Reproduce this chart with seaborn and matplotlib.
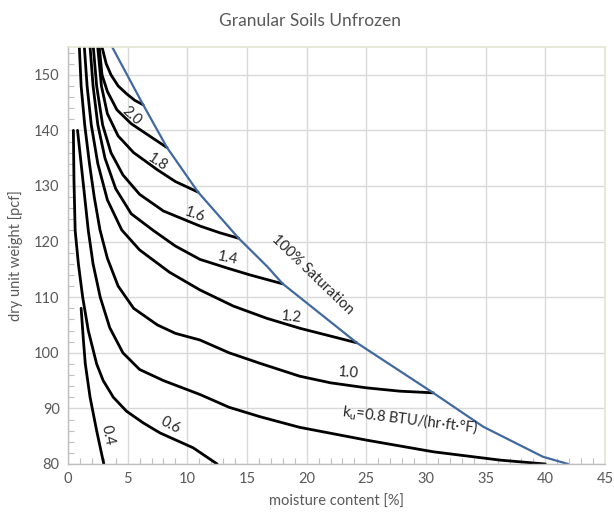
import numpy as np
import pandas as pd
import matplotlib
matplotlib.use("Agg")
import matplotlib.pyplot as plt
import seaborn as sns

# ---- data (moisture %, dry unit weight pcf) ----
k04_x = [1.1, 1.3, 1.45, 1.85, 2.4, 3.0]
k04_y = [108, 102, 98, 92, 86, 80]

k06_x = [0.45, 0.5, 0.6, 0.87, 1.23, 1.7, 2.4, 2.95, 3.8, 4.9, 6.3, 7.7, 10.5, 12.5]
k06_y = [140, 131, 122, 116, 110, 104, 98, 95, 92, 89.5, 87.4, 85.6, 82.9, 80]

k08_x = [0.8, 1.0, 1.25, 1.7, 2.1, 2.7, 3.5, 4.6, 6.0, 8.0, 11.06, 13.5, 16.1, 19.4, 25.0, 30.6, 36.2, 40.0]
k08_y = [140, 136, 131, 122, 116, 110, 104.5, 100, 97, 95, 92.5, 90.2, 88.5, 86.6, 84.3, 82.2, 80.7, 80]

k10_x = [0.95, 1.1, 1.4, 1.8, 2.2, 2.68, 3.3, 4.2, 5.5, 7.5, 9.0, 11.06, 13.5, 16.1, 19.4, 22.0, 25.0, 27.8, 30.6]
k10_y = [155, 148, 141, 134, 128, 122.1, 117, 112, 108, 105, 103.5, 102.3, 100, 98.1, 95.8, 94.6, 93.7, 93.1, 92.8]

k12_x = [1.37, 1.6, 1.95, 2.5, 3.3, 4.5, 6.0, 8.5, 11.06, 13.86, 16.66, 19.45, 22.2, 24.2]
k12_y = [155, 148, 141, 134, 127.5, 122.1, 118.5, 114.5, 111.3, 108.4, 106.2, 104.4, 102.9, 101.8]

k14_x = [1.85, 2.1, 2.5, 3.1, 4.0, 5.3, 7.15, 9.0, 11.06, 13.4, 15.26, 18.0]
k14_y = [155, 148, 141, 135, 129.5, 125, 122, 119.2, 116.8, 115.2, 114.0, 112.4]

k16_x = [2.12, 2.4, 2.9, 3.6, 4.6, 6.0, 8.0, 11.06, 12.7, 14.3]
k16_y = [155, 148, 141, 136, 132, 128.5, 125.5, 122.8, 121.6, 120.6]

k18_x = [2.49, 2.8, 3.3, 4.2, 5.5, 7.5, 9.0, 10.9]
k18_y = [155, 148, 143, 139, 136, 132.9, 130.8, 128.9]

k20_x = [2.62, 2.85, 3.3, 4.1, 5.3, 6.9, 8.3]
k20_y = [155, 150, 147, 143.7, 141.2, 138.9, 136.9]

k22_x = [2.85, 3.2, 3.6, 4.2, 4.9, 5.6, 6.3]
k22_y = [155, 152, 150, 148, 146.6, 145.4, 144.6]

sat_x = [3.7, 6.3, 8.3, 10.9, 14.3, 16.7, 18.0, 24.2, 30.6, 34.8, 39.8, 41.9]
sat_y = [155, 144.6, 136.9, 128.9, 120.6, 115.5, 112.4, 101.8, 92.8, 86.7, 81.3, 80]

x_ticks = [0, 5, 10, 15, 20, 25, 30, 35, 40, 45]
y_ticks = [80, 90, 100, 110, 120, 130, 140, 150]

curves = {
    "0.4": (k04_x, k04_y), "0.6": (k06_x, k06_y), "0.8": (k08_x, k08_y),
    "1.0": (k10_x, k10_y), "1.2": (k12_x, k12_y), "1.4": (k14_x, k14_y),
    "1.6": (k16_x, k16_y), "1.8": (k18_x, k18_y), "2.0": (k20_x, k20_y),
    "2.2": (k22_x, k22_y),
}
rows = []
for name, (xs, ys) in curves.items():
    for xv, yv in zip(xs, ys):
        rows.append({"moisture": xv, "density": yv, "k": name})
df = pd.DataFrame(rows)
sat = pd.DataFrame({"moisture": sat_x, "density": sat_y})

sns.set_style("white")
plt.rcParams["font.family"] = ["Lato", "DejaVu Sans"]
text_col = "#595959"

fig = plt.figure(figsize=(6.14, 5.17), dpi=100)
ax = fig.add_axes([68 / 614, 1 - 464 / 517, (605 - 68) / 614, (464 - 47) / 517])

sns.lineplot(data=df, x="moisture", y="density", units="k", estimator=None,
             sort=False, color="black", lw=2.0, ax=ax, legend=False,
             solid_joinstyle="round")
sns.lineplot(data=sat, x="moisture", y="density", estimator=None, sort=False,
             color="#41699f", lw=1.6, ax=ax, legend=False, solid_joinstyle="round")

ax.set_xlim(0, 45)
ax.set_ylim(80, 155)
ax.set_xticks(x_ticks)
ax.set_yticks(y_ticks)
ax.set_xticks(np.arange(0, 46, 1), minor=True)
ax.set_yticks(np.arange(80, 156, 2), minor=True)
ax.grid(True, which="major", color="#d9d9d9", lw=1.0)
ax.set_axisbelow(True)
ax.tick_params(which="major", length=0, labelsize=10.5, colors=text_col, pad=6,
               bottom=True, left=True)
ax.tick_params(which="minor", direction="in", length=4, color="#bfbfbf", width=0.8,
               bottom=True, left=True, top=False, right=False)
for s in ["left", "bottom"]:
    ax.spines[s].set_color("#bfbfbf")
    ax.spines[s].set_linewidth(1.0)
for s in ["top", "right"]:
    ax.spines[s].set_color("#e2e6cf")
    ax.spines[s].set_linewidth(1.2)

ax.set_xlabel("moisture content [%]", fontsize=10.5, color=text_col, labelpad=6)
ax.set_ylabel("dry unit weight [pcf]", fontsize=10.5, color=text_col, labelpad=8)
fig.suptitle("Granular Soils Unfrozen", x=0.505, y=0.975, fontsize=12.5, color=text_col)

lab_kw = dict(fontsize=10.5, color="#262626", ha="center", va="center")
ax.text(5.3, 142.6, "2.0", rotation=-42, **lab_kw)
ax.text(7.5, 134.3, "1.8", rotation=-33, **lab_kw)
ax.text(10.6, 124.8, "1.6", rotation=-20, **lab_kw)
ax.text(13.4, 117.1, "1.4", rotation=-12, **lab_kw)
ax.text(18.7, 106.5, "1.2", rotation=-6, **lab_kw)
ax.text(23.5, 96.4, "1.0", rotation=-5, **lab_kw)
ax.text(28.7, 87.9, r"k$_\mathregular{u}$=0.8 BTU/(hr·ft·°F)", rotation=-7, **lab_kw)
ax.text(8.55, 87.0, "0.6", rotation=-28, **lab_kw)
ax.text(3.35, 85.2, "0.4", rotation=-78, **lab_kw)
ax.text(20.5, 114.0, "100% Saturation", rotation=-44, **lab_kw)

fig.savefig("out.png", dpi=100)
